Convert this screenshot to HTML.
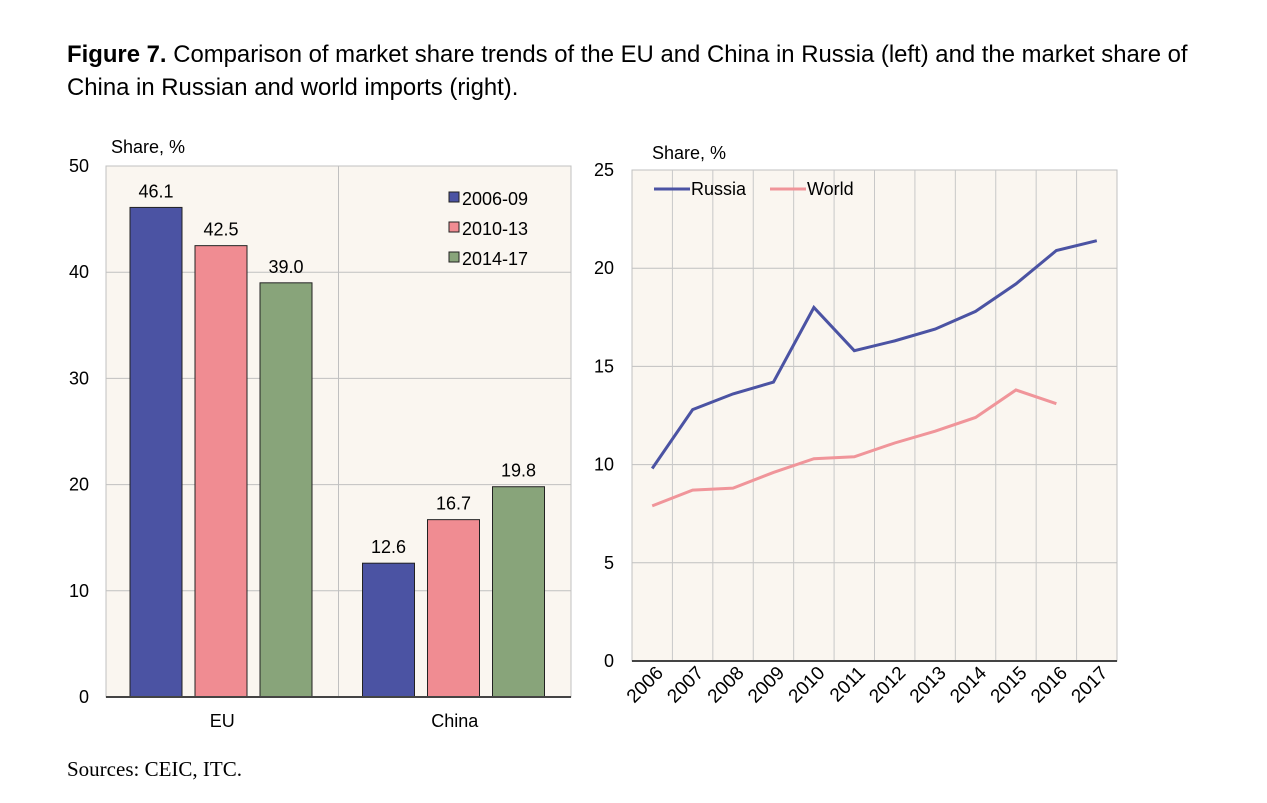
<!DOCTYPE html>
<html><head><meta charset="utf-8"><style>
body{margin:0;background:#fff;width:1267px;height:803px;overflow:hidden;font-family:"Liberation Sans",sans-serif;}
#title{position:absolute;left:67px;top:38px;font-size:24.5px;line-height:33px;color:#000;transform:scaleX(0.975);transform-origin:left top;width:1300px;}
#src{position:absolute;left:67px;top:757px;font-family:"Liberation Serif",serif;font-size:21px;}
svg{position:absolute;left:0;top:0}
</style></head><body>
<div id="title"><b>Figure 7.</b> Comparison of market share trends of the EU and China in Russia (left) and the market share of<br>China in Russian and world imports (right).</div>
<div id="src">Sources: CEIC, ITC.</div>
<svg id="c" width="1267" height="803"></svg>
<script>
const barGroups=["EU","China"];
const barSeriesNames=["2006-09","2010-13","2014-17"];
const barEU=[46.1,42.5,39.0];
const barChina=[12.6,16.7,19.8];
const barTicks=[0,10,20,30,40,50];
const years=["2006","2007","2008","2009","2010","2011","2012","2013","2014","2015","2016","2017"];
const russia=[9.8,12.8,13.6,14.2,18.0,15.8,16.3,16.9,17.8,19.2,20.9,21.4];
const world=[7.9,8.7,8.8,9.6,10.3,10.4,11.1,11.7,12.4,13.8,13.1];
const lineTicks=[0,5,10,15,20,25];

const NS="http://www.w3.org/2000/svg",svg=document.getElementById('c');
function mk(t,a,txt){const e=document.createElementNS(NS,t);for(const k in a)e.setAttribute(k,a[k]);if(txt!=null)e.textContent=txt;svg.appendChild(e);return e;}
const cols=["#4b53a3","#f08c92","#88a47a"];
const FS=18;
const L={x0:106,x1:571,y0:697,y1:166,max:50};
const ly=v=>L.y0-(v/L.max)*(L.y0-L.y1);
let e=mk('rect',{x:L.x0,y:L.y1,width:L.x1-L.x0,height:L.y0-L.y1,fill:'#faf6f0',stroke:'#c0c0c0'});

barTicks.forEach(t=>{
 if(t>0&&t<L.max){e=mk('line',{x1:L.x0,x2:L.x1,y1:ly(t),y2:ly(t),stroke:'#c0c0c0'});}
 e=mk('text',{x:89,y:ly(t)+6,'font-size':FS,'text-anchor':'end'},t);
});
const gw=(L.x1-L.x0)/barGroups.length;
e=mk('line',{x1:L.x0+gw,x2:L.x0+gw,y1:L.y1,y2:L.y0,stroke:'#c0c0c0'});
[barEU,barChina].forEach((vals,g)=>{
 vals.forEach((v,i)=>{
  const bx=L.x0+g*gw+24+i*65;
  e=mk('rect',{x:bx,y:ly(v),width:52,height:L.y0-ly(v),fill:cols[i],stroke:'#222','stroke-width':1});
  
  e=mk('text',{x:bx+26,y:ly(v)-10,'font-size':FS,'text-anchor':'middle'},v.toFixed(1));
  
 });
 e=mk('text',{x:L.x0+g*gw+gw/2,y:727,'font-size':FS,'text-anchor':'middle'},barGroups[g]);
 
});
e=mk('line',{x1:L.x0,x2:L.x1,y1:L.y0,y2:L.y0,stroke:'#444','stroke-width':2});
e=mk('text',{x:111,y:153,'font-size':FS},'Share, %');
barSeriesNames.forEach((n,i)=>{
 e=mk('rect',{x:449,y:192+i*30,width:10,height:10,fill:cols[i],stroke:'#222'});
 e=mk('text',{x:462,y:205+i*30,'font-size':FS},n);
});
const R={x0:632,x1:1117,y0:661,y1:170,max:25};
const cw=(R.x1-R.x0)/years.length;
const rx=i=>R.x0+cw*(i+0.5), ry=v=>R.y0-(v/R.max)*(R.y0-R.y1);
e=mk('rect',{x:R.x0,y:R.y1,width:R.x1-R.x0,height:R.y0-R.y1,fill:'#faf6f0',stroke:'#c0c0c0'});

lineTicks.forEach(t=>{
 if(t>0&&t<R.max){e=mk('line',{x1:R.x0,x2:R.x1,y1:ry(t),y2:ry(t),stroke:'#c0c0c0'});}
 e=mk('text',{x:614,y:ry(t)+6,'font-size':FS,'text-anchor':'end'},t);
});
years.forEach((y,i)=>{
 if(i>0){e=mk('line',{x1:R.x0+cw*i,x2:R.x0+cw*i,y1:R.y1,y2:R.y0,stroke:'#c8c8c8'});}
 const tx=rx(i)+12,tyy=674;
 e=mk('text',{x:tx,y:tyy,'font-size':19,'text-anchor':'end',transform:`rotate(-45 ${tx} ${tyy})`},y);
 
});
e=mk('line',{x1:R.x0,x2:R.x1,y1:R.y0,y2:R.y0,stroke:'#444','stroke-width':2});
e=mk('polyline',{points:world.map((v,i)=>rx(i)+','+ry(v)).join(' '),fill:'none',stroke:'#f0959a','stroke-width':3});

e=mk('polyline',{points:russia.map((v,i)=>rx(i)+','+ry(v)).join(' '),fill:'none',stroke:'#4b53a3','stroke-width':3});

e=mk('text',{x:652,y:159,'font-size':FS},'Share, %');
[["Russia","#4b53a3",654],["World","#f0959a",770]].forEach(([n,c,x])=>{
 e=mk('line',{x1:x,x2:x+36,y1:189,y2:189,stroke:c,'stroke-width':3});
 e=mk('text',{x:x+37,y:195,'font-size':FS},n);
});
</script>
</body></html>
